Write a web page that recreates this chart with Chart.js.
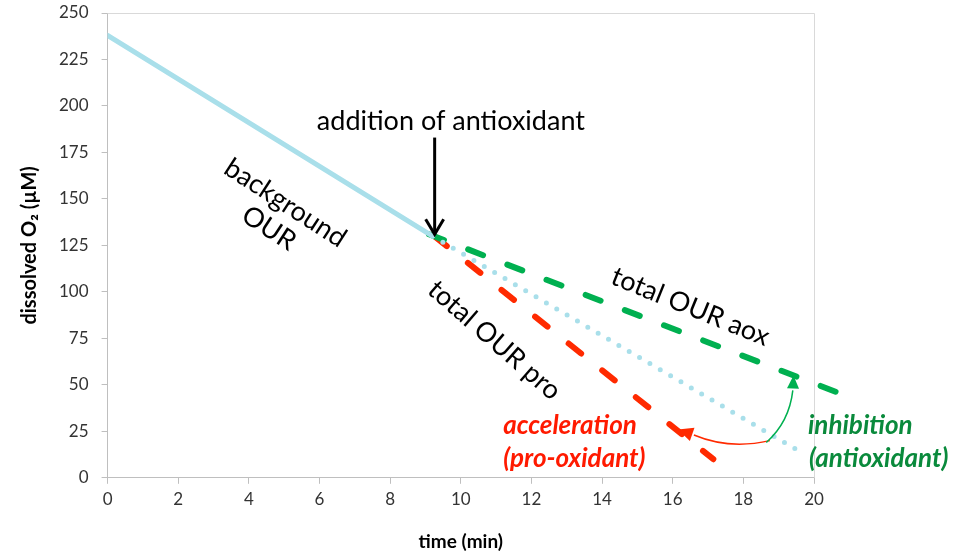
<!DOCTYPE html>
<html>
<head>
<meta charset="utf-8">
<script src="https://cdn.jsdelivr.net/npm/chart.js@4/dist/chart.umd.min.js"></script>
<style>
  body{margin:0;background:#fff;}
  #wrap{width:964px;height:555px;}
</style>
</head>
<body>
<div id="wrap"><canvas id="myChart" width="964" height="555"></canvas></div>
<script>
// data (time in min, dissolved O2 in uM)
const bgTime=[0,9.2];
const bgO2=[238,130];
const bgExtTime=[9.2,19.7];
const bgExtO2=[130,13];
const aoxTime=[9.1,20.65];
const aoxO2=[131,46];
const proTime=[9.25,17.15];
const proO2=[130,10];
const xTicks=[0,2,4,6,8,10,12,14,16,18,20];
const yTicks=[0,25,50,75,100,125,150,175,200,225,250];

const FONT="Lato, 'Open Sans', sans-serif";

function pts(xs,ys)
{
  let out=[];
  for(var i=0;i<xs.length;i++)
    out.push({x:xs[i],y:ys[i]});
  return out;
}

// light frame on top and right of the plot area
const frame={
  id:'frame',
  beforeDatasetsDraw(chart)
  {
    const a=chart.chartArea, c=chart.ctx;
    c.save();
    c.strokeStyle='#d9d9d9';
    c.lineWidth=1;
    c.beginPath();
    c.moveTo(a.left,a.top+0.5);
    c.lineTo(a.right+0.5,a.top+0.5);
    c.lineTo(a.right+0.5,a.bottom);
    c.stroke();
    c.restore();
  }
};

// arrows and labels drawn on top of the plot
const notes={
  id:'notes',
  afterDatasetsDraw(chart)
  {
    const c=chart.ctx;
    const sx=chart.scales.x, sy=chart.scales.y;
    const X=v=>sx.getPixelForValue(v), Y=v=>sy.getPixelForValue(v);
    c.save();
    c.textAlign='center';
    c.textBaseline='middle';

    // addition of antioxidant
    c.fillStyle='#000';
    c.font='27px '+FONT;
    c.fillText('addition of antioxidant',X(9.72),Y(192));
    c.strokeStyle='#000';
    c.lineWidth=3;
    c.beginPath();
    c.moveTo(X(9.26),Y(183));
    c.lineTo(X(9.26),Y(131));
    c.stroke();
    c.beginPath();
    c.moveTo(X(9.26)-9,Y(131)-15);
    c.lineTo(X(9.26),Y(131));
    c.lineTo(X(9.26)+9,Y(131)-15);
    c.stroke();

    function rotText(lines,x,y,deg,gap)
    {
      c.save();
      c.translate(X(x),Y(y));
      c.rotate(deg*Math.PI/180);
      for(var i=0;i<lines.length;i++)
        c.fillText(lines[i],0,(i-(lines.length-1)/2)*gap);
      c.restore();
    }
    c.font='27px '+FONT;
    rotText(['background','OUR'],4.8,141,33,30);
    rotText(['total OUR pro'],10.95,74,41,0);
    rotText(['total OUR aox'],16.5,92,22,0);

    // acceleration / inhibition labels
    c.textAlign='left';
    c.font='italic bold 26px '+FONT;
    c.fillStyle='#ff1a00';
    c.fillText('acceleration',X(11.2),Y(28));
    c.fillText('(pro-oxidant)',X(11.2),Y(10.5));
    c.fillStyle='#0a8a3c';
    c.fillText('inhibition',X(19.83),Y(28));
    c.fillText('(antioxidant)',X(19.86),Y(10.5));

    function head(tx,ty,fx,fy,col,len,half)
    {
      const a=Math.atan2(ty-fy,tx-fx);
      c.fillStyle=col;
      c.beginPath();
      c.moveTo(tx,ty);
      c.lineTo(tx-len*Math.cos(a)+half*Math.sin(a),ty-len*Math.sin(a)-half*Math.cos(a));
      c.lineTo(tx-len*Math.cos(a)-half*Math.sin(a),ty-len*Math.sin(a)+half*Math.cos(a));
      c.closePath();
      c.fill();
    }
    // red curved arrow
    c.lineWidth=1.5;
    c.strokeStyle='#ff2a00';
    c.beginPath();
    c.moveTo(X(18.75),Y(20));
    c.quadraticCurveTo(X(17.6),Y(15),X(16.6),Y(23));
    c.stroke();
    head(X(16.15),Y(26),X(16.75),Y(22),'#ff2a00',15,7);
    // green curved arrow
    c.strokeStyle='#00b050';
    c.beginPath();
    c.moveTo(X(18.65),Y(19));
    c.quadraticCurveTo(X(19.3),Y(30),X(19.4),Y(47));
    c.stroke();
    head(X(19.42),Y(55),X(19.4),Y(45),'#00b050',13,6);
    c.restore();
  }
};

const ctx=document.getElementById('myChart').getContext('2d');
const myChart=new Chart(ctx,{
  type:'scatter',
  data:{
    datasets:[
      {data:pts(bgTime,bgO2),showLine:true,borderColor:'#a9dfea',borderWidth:5,pointRadius:0,borderCapStyle:'round'},
      {data:pts(bgExtTime,bgExtO2),showLine:true,borderColor:'#a9dfea',borderWidth:5,pointRadius:0,borderCapStyle:'round',borderDash:[0,12]},
      {data:pts(aoxTime,aoxO2),showLine:true,borderColor:'#00b050',borderWidth:6,pointRadius:0,borderCapStyle:'round',borderDash:[16,26],clip:false},
      {data:pts(proTime,proO2),showLine:true,borderColor:'#ff2a00',borderWidth:6,pointRadius:0,borderCapStyle:'round',borderDash:[16,27]}
    ]
  },
  options:{
    responsive:false,
    animation:false,
    layout:{padding:{left:18,right:150,top:2,bottom:0}},
    plugins:{legend:{display:false},tooltip:{enabled:false}},
    scales:{
      x:{
        type:'linear',min:0,max:20,
        afterBuildTicks:(s)=>{s.ticks=xTicks.map(v=>({value:v}));},
        grid:{drawOnChartArea:false,drawTicks:true,tickLength:6,color:'#bfbfbf'},
        border:{color:'#bfbfbf'},
        ticks:{color:'#333',font:{family:FONT,size:17},padding:6,maxRotation:0},
        title:{display:true,text:'time (min)',color:'#000',font:{family:FONT,size:19,weight:'bold'},padding:{top:14,bottom:2}}
      },
      y:{
        type:'linear',min:0,max:250,
        afterBuildTicks:(s)=>{s.ticks=yTicks.map(v=>({value:v}));},
        afterFit:(s)=>{s.paddingTop=13;s.paddingBottom=10;},
        grid:{drawOnChartArea:false,drawTicks:true,tickLength:6,color:'#bfbfbf'},
        border:{color:'#bfbfbf'},
        ticks:{color:'#333',font:{family:FONT,size:17},padding:13},
        title:{display:true,text:'dissolved O₂ (µM)',color:'#000',font:{family:FONT,size:20,weight:'bold'},padding:{top:0,bottom:4}}
      }
    }
  },
  plugins:[frame,notes]
});
</script>
</body>
</html>
